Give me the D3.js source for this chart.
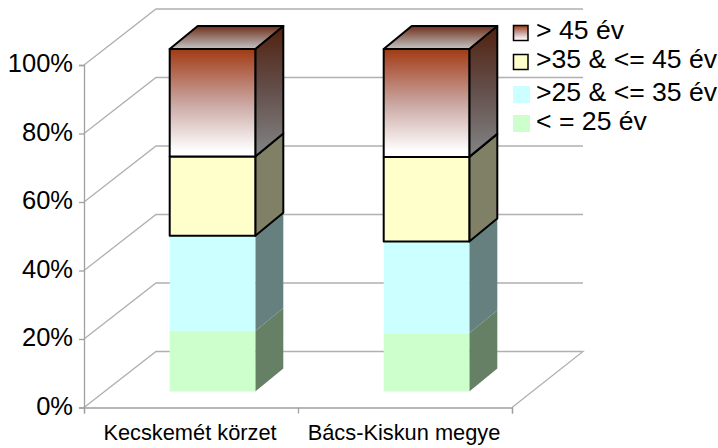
<!DOCTYPE html>
<html>
<head>
<meta charset="utf-8">
<script src="https://cdn.jsdelivr.net/npm/d3@7"></script>
<style>
  html, body { margin: 0; padding: 0; background: #fff; }
  svg { display: block; font-family: "Liberation Sans", Arial, sans-serif; }
</style>
</head>
<body>
<svg width="718" height="448"></svg>
<script>
  // data (percent of each bar, bottom to top)
  const categories = ["Kecskemét körzet", "Bács-Kiskun megye"];
  const seriesNames = ["< = 25 év", ">25 & <= 35 év", ">35 & <= 45 év", "> 45 év"];
  const young = [17.7, 17.0];
  const mid1 = [27.8, 26.8];
  const mid2 = [23.1, 24.7];
  const old = [31.4, 31.5];
  const yTicks = [0, 20, 40, 60, 80, 100];

  const rows = categories.map((c, i) => ({
    cat: c,
    [seriesNames[0]]: young[i],
    [seriesNames[1]]: mid1[i],
    [seriesNames[2]]: mid2[i],
    [seriesNames[3]]: old[i]
  }));

  const svg = d3.select("svg");

  // floor offset of the back wall, and where the bars stand in the depth
  const wall = { dx: 72, dy: -56 };
  const barFront = { dx: 21.5, dy: -16 };
  const barDepth = { dx: 28, dy: -23 };

  const x = d3.scaleBand().domain(categories).range([84, 512]).paddingInner(0.6).paddingOuter(0.3);
  const y = d3.scaleLinear().domain([0, 100]).range([407.5, 65]);

  // gradients for the top series
  const defs = svg.append("defs");
  function gradient(id, stops) {
    const g = defs.append("linearGradient").attr("id", id)
      .attr("x1", 0).attr("y1", 0).attr("x2", 0).attr("y2", 1);
    stops.forEach(s => g.append("stop").attr("offset", s[0]).attr("stop-color", s[1]));
  }
  gradient("gradFront", [["0%", "#a23a14"], ["50%", "#c9a5a0"], ["95%", "#ffffff"]]);
  gradient("gradSide", [["0%", "#51210f"], ["50%", "#64504c"], ["95%", "#808080"]]);
  gradient("gradTop", [["0%", "#6f2f1c"], ["100%", "#c4c4c4"]]);

  const grid = "#b0b0b0";
  const line = d3.line();

  // walls + floor
  yTicks.forEach(t => {
    const p = y(t);
    const pts = [[84, p], [84 + wall.dx, p + wall.dy], [583, p + wall.dy]];
    if (t === 0) pts.push([512, p]);
    svg.append("path").attr("d", line(pts))
      .attr("fill", "none").attr("stroke", grid).attr("stroke-width", 1.3);
  });

  // axes
  const yAxis = svg.append("g").attr("transform", "translate(84,0)")
    .call(d3.axisLeft(y).tickValues(yTicks).tickSize(5).tickPadding(6).tickFormat(d => d + "%"));
  yAxis.selectAll("text").attr("font-size", 25.5).attr("font-family", "Liberation Sans").attr("fill", "#000").attr("dy", "0.26em");
  yAxis.selectAll("line, path").attr("stroke", "#a0a0a0").attr("stroke-width", 1.3);

  const xAxis = svg.append("g").attr("transform", "translate(0,407.5)")
    .call(d3.axisBottom(d3.scalePoint().domain([0, 1, 2]).range([84, 512])).tickSize(6).tickFormat(""));
  xAxis.selectAll("line, path").attr("stroke", "#a0a0a0").attr("stroke-width", 1.3);

  const catAxis = svg.append("g").attr("transform", "translate(-1,407.5)")
    .call(d3.axisBottom(d3.scaleBand().domain(categories).range([84, 512])).tickSize(0).tickPadding(17));
  catAxis.select("path").remove();
  catAxis.selectAll("text").attr("font-size", 21.8).attr("font-family", "Liberation Sans").attr("fill", "#000");

  // bars
  const styles = [
    { front: "#ccffcc", side: "#668066", stroke: "none" },
    { front: "#ccffff", side: "#668080", stroke: "none" },
    { front: "#ffffcc", side: "#808066", stroke: "#000" },
    { front: "url(#gradFront)", side: "url(#gradSide)", top: "url(#gradTop)", stroke: "#000" }
  ];

  const stacked = d3.stack().keys(seriesNames)(rows);

  categories.forEach((c, i) => {
    const x0 = x(c) + barFront.dx, x1 = x0 + x.bandwidth();
    stacked.forEach((s, k) => {
      const st = styles[k];
      const yLo = y(s[i][0]) + barFront.dy, yHi = y(s[i][1]) + barFront.dy;
      const g = svg.append("g")
        .attr("stroke", st.stroke).attr("stroke-width", 2).attr("stroke-linejoin", "round");
      // side
      g.append("path").attr("fill", st.side).attr("d", line([
        [x1, yLo], [x1 + barDepth.dx, yLo + barDepth.dy],
        [x1 + barDepth.dx, yHi + barDepth.dy], [x1, yHi]
      ]) + "Z");
      // lid
      if (st.top) {
        g.append("path").attr("fill", st.top).attr("d", line([
          [x0, yHi], [x1, yHi], [x1 + barDepth.dx, yHi + barDepth.dy], [x0 + barDepth.dx, yHi + barDepth.dy]
        ]) + "Z");
      }
      // front
      g.append("rect").attr("x", x0).attr("y", yHi)
        .attr("width", x1 - x0).attr("height", yLo - yHi).attr("fill", st.front);
    });
  });

  // legend, top series first; the rows are not evenly spaced in the original
  const legendOrder = seriesNames.slice().reverse();
  const legendRowY = [33, 62, 94.5, 123.5];
  legendOrder.forEach((name, i) => {
    const st = styles[seriesNames.indexOf(name)];
    const ly = legendRowY[i];
    const lined = st.stroke !== "none";
    svg.append("rect")
      .attr("x", lined ? 513.5 : 513).attr("y", lined ? ly - 7.5 : ly - 8.5)
      .attr("width", lined ? 14.5 : 17).attr("height", lined ? 15 : 17)
      .attr("fill", st.front).attr("stroke", st.stroke).attr("stroke-width", 1.5);
    svg.append("text").attr("x", 536).attr("y", ly + 6)
      .attr("font-size", 26.6).attr("fill", "#000").text(name);
  });
</script>
</body>
</html>
